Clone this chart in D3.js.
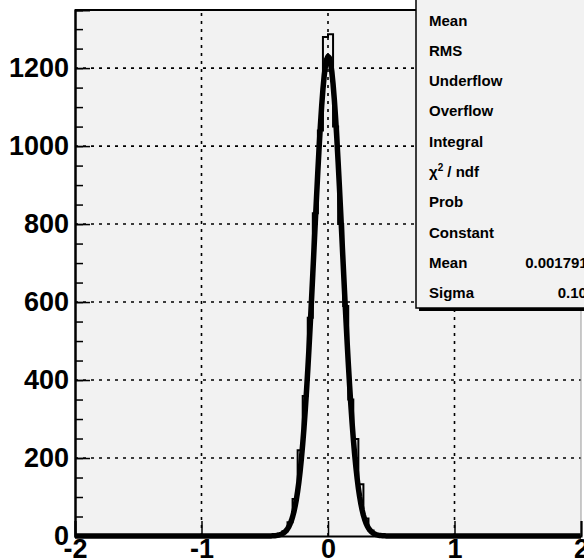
<!DOCTYPE html>
<html><head><meta charset="utf-8">
<script src="https://cdn.jsdelivr.net/npm/d3@7"></script>
<style>
body{margin:0;background:#fff;}
svg{display:block;}
text{font-family:"Liberation Sans",Arial,Helvetica,sans-serif;font-weight:bold;fill:#000;}
</style>
</head><body>
<svg id="c" width="584" height="558"></svg>
<script>
// ---- data ----
const binWidth = 0.04;
const xRange = [-2, 2];
const binLowEdges = [-0.44,-0.40,-0.36,-0.32,-0.28,-0.24,-0.20,-0.16,-0.12,-0.08,-0.04,0.00,0.04,0.08,0.12,0.16,0.20,0.24,0.28,0.32,0.36,0.40];
const binCounts   = [1,3,12,35,95,220,359,560,828,1040,1280,1287,1050,800,590,350,249,133,45,14,4,1];
const fitConstant = 1230;
const fitMean = 0.001791;
const fitSigma = 0.111;
const xTickValues = [-2,-1,0,1,2];
const yTickValues = [0,200,400,600,800,1000,1200];
const yMinorTickValues = d3.range(0,1350,50);
const yMax = 1349;
const statLabels = ["Mean","RMS","Underflow","Overflow","Integral","χ2 / ndf","Prob","Constant","Mean","Sigma"];
const statValues = ["0.001758","0.1136","0","0","1e+04","33.6 / 18","0.01402","1230 ± 15.2","0.001791 ± 0.001124","0.1090 ± 0.0008"];

// ---- layout ----
const svg = d3.select("#c");
const L = 75, R = 581, T = 10, B = 536;
const x = d3.scaleLinear().domain(xRange).range([L, R]);
const y = d3.scaleLinear().domain([0, yMax]).range([B, T]);
const fmt = d => String(d); // plain hyphen-minus as in the reference

svg.append("rect").attr("x",0).attr("y",0).attr("width",584).attr("height",558).attr("fill","#fff");
svg.append("rect").attr("x",L).attr("y",T).attr("width",R-L).attr("height",B-T).attr("fill","#f2f2f2");

// grid
const grid = svg.append("g").attr("stroke","#000").attr("stroke-width",1.6).attr("stroke-dasharray","3,5");
grid.selectAll(".gx").data(xTickValues.filter(d=>d>xRange[0]&&d<xRange[1])).join("line")
  .attr("x1",d=>x(d)).attr("x2",d=>x(d)).attr("y1",B).attr("y2",T);
grid.selectAll(".gy").data(yTickValues.filter(d=>d>0)).join("line")
  .attr("x1",L).attr("x2",R).attr("y1",d=>y(d)).attr("y2",d=>y(d));

// histogram (full binning, zeros outside listed bins)
const nBins = Math.round((xRange[1]-xRange[0])/binWidth);
const full = new Array(nBins).fill(0);
binLowEdges.forEach((e,i)=>{ full[Math.round((e-xRange[0])/binWidth)] = binCounts[i]; });
let hp = `M${x(xRange[0])},${y(0)}`;
full.forEach((c,i)=>{
  const x0 = xRange[0]+i*binWidth, x1 = x0+binWidth;
  hp += `L${x(x0)},${y(c)}L${x(x1)},${y(c)}`;
});
hp += `L${x(xRange[1])},${y(0)}`;
svg.append("path").attr("d",hp).attr("fill","none").attr("stroke","#000").attr("stroke-width",2);

// fit function (Gaussian from fit parameters)
const fx = d3.range(0, 401).map(i => xRange[0] + i*(xRange[1]-xRange[0])/400);
const gauss = v => fitConstant*Math.exp(-0.5*((v-fitMean)/fitSigma)**2);
svg.append("path").datum(fx)
  .attr("d", d3.line().x(d=>x(d)).y(d=>y(gauss(d))))
  .attr("fill","none").attr("stroke","#000").attr("stroke-width",5.5).attr("stroke-linejoin","round");

// frame borders
svg.append("line").attr("x1",R).attr("x2",R).attr("y1",T).attr("y2",B).attr("stroke","#999").attr("stroke-width",1);
svg.append("line").attr("x1",L).attr("x2",R).attr("y1",T).attr("y2",T).attr("stroke","#000").attr("stroke-width",2);

// axes
const yAxis = d3.axisLeft(y).tickValues(yTickValues).tickSize(-15).tickPadding(6).tickFormat(fmt);
const gY = svg.append("g").attr("transform",`translate(${L},0)`).call(yAxis);
const gYm = svg.append("g").attr("transform",`translate(${L},0)`).call(d3.axisLeft(y).tickValues(yMinorTickValues).tickSize(-8).tickFormat(""));
const xAxis = d3.axisBottom(x).tickValues(xTickValues).tickSize(-15).tickPadding(3).tickFormat(fmt);
const gX = svg.append("g").attr("transform",`translate(0,${B})`).call(xAxis);
[gY,gYm,gX].forEach(g=>{
  g.select(".domain").attr("stroke","#000").attr("stroke-width",2);
  g.selectAll(".tick line").attr("stroke","#000").attr("stroke-width",1.5);
  g.selectAll("text").style("font-size","27px").style("font-family","'Liberation Sans',Arial,sans-serif").style("font-weight","bold").attr("fill","#000");
});
gX.selectAll("text").attr("dy","0.72em");

// stats box
const boxL = 416, boxT = -20, boxR = 674, boxB = 308, rowStep = 30.33, row0 = 20;
svg.append("rect").attr("x",boxL+3).attr("y",boxT+3).attr("width",boxR-boxL).attr("height",boxB-boxT).attr("fill","#000");
svg.append("rect").attr("x",boxL).attr("y",boxT).attr("width",boxR-boxL).attr("height",boxB-boxT)
  .attr("fill","#f2f2f2").attr("stroke","#000").attr("stroke-width",1.5);
const st = svg.append("g").style("font-size","15px");
statLabels.forEach((lab,i)=>{
  const yy = row0 + i*rowStep + 5.5;
  const t = st.append("text").attr("x",429).attr("y",yy);
  if (lab.startsWith("χ2")) {
    t.append("tspan").text("χ");
    t.append("tspan").attr("dy",-6).style("font-size","10px").text("2");
    t.append("tspan").attr("dy",6).text(" / ndf");
  } else t.text(lab);
  st.append("text").attr("x",boxR-8).attr("y",yy).attr("text-anchor","end").text(statValues[i]);
});
</script>
</body></html>
